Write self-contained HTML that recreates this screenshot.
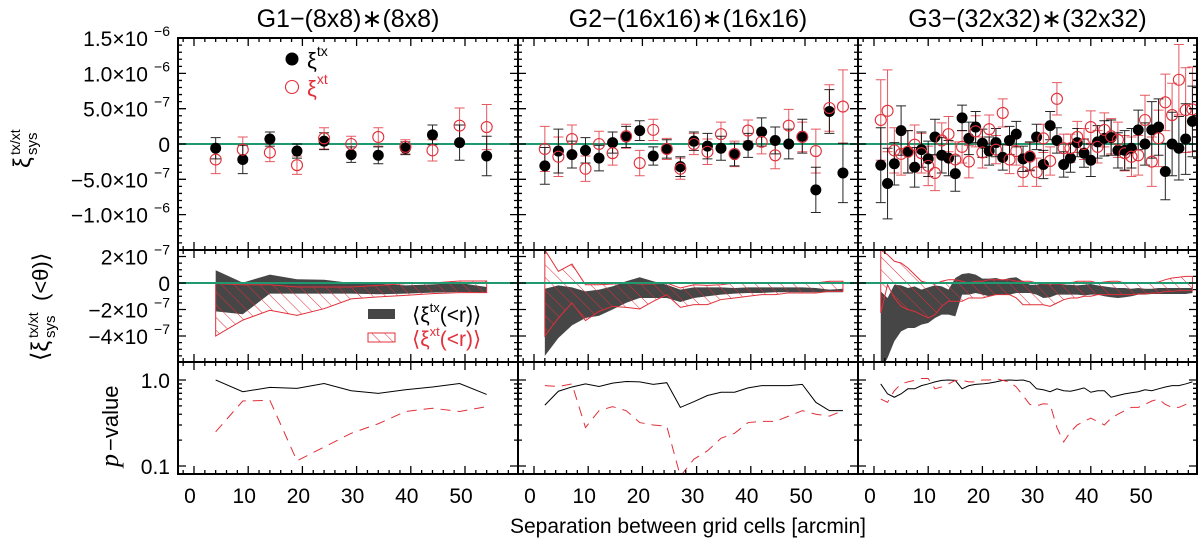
<!DOCTYPE html>
<html><head><meta charset="utf-8">
<style>
html,body{margin:0;padding:0;background:#fff;}
svg{display:block;font-family:"Liberation Sans","DejaVu Sans",sans-serif;}
</style></head>
<body>
<svg id="chart" width="1200" height="544" viewBox="0 0 1200 544" xmlns="http://www.w3.org/2000/svg">
<defs>
<pattern id="hatch" patternUnits="userSpaceOnUse" width="9" height="9" patternTransform="rotate(-45)">
<line x1="0" y1="0" x2="0" y2="9" stroke="#e0303a" stroke-width="1"/>
</pattern>
<clipPath id="c0"><rect x="178" y="38" width="340" height="436"/></clipPath>
<clipPath id="c1"><rect x="518" y="38" width="340" height="436"/></clipPath>
<clipPath id="c2"><rect x="858" y="38" width="339" height="436"/></clipPath>
</defs>
<g id="root"></g>
</svg>
<script>
// ---- data (values in units of 1e-7 for xi, p-values raw) ----
const titles=["G1\u2212(8x8)\u2217(8x8)","G2\u2212(16x16)\u2217(16x16)","G3\u2212(32x32)\u2217(32x32)"];
const sep1=[4,9,14,19,24,29,34,39,44,49,54];
const sep2=[2,4.5,7,9.5,12,14.5,17,19.5,22,24.5,27,29.5,32,34.5,37,39.5,42,44.5,47,49.5,52,54.5,57];
const sep3=[1.25,2.5,3.75,5,6.25,7.5,8.75,10,11.25,12.5,13.75,15,16.25,17.5,18.75,20,21.25,22.5,23.75,25,26.25,27.5,28.75,30,31.25,32.5,33.75,35,36.25,37.5,38.75,40,41.25,42.5,43.75,45,46.25,47.5,48.75,50,51.25,52.5,53.75,55,56.25,57.5,58.75];

const tx1=[-0.6,-2.2,0.7,-1.0,0.4,-1.5,-1.6,-0.6,1.3,0.2,-1.7];
const tx1err=[1.5,2.0,1.0,1.0,1.2,1.1,1.2,0.9,1.4,2.5,2.8];
const xt1=[-2.2,-0.8,-1.2,-3.0,0.8,0,1.0,-0.4,-0.9,2.6,2.4];
const xt1err=[2.0,1.8,1.3,1.3,1.5,1.1,1.3,1.0,1.5,2.5,3.2];

const tx2=[-3.1,-1.0,-1.5,-0.9,-2.0,0.2,1.0,1.9,-1.7,-0.7,-3.2,0.4,-0.3,-0.6,-1.5,-0.2,1.7,0.5,0,1.1,-6.5,4.6,-4.1];
const tx2err=[2.6,3.1,1.9,1.8,1.8,1.5,1.5,1.4,1.3,1.3,1.4,1.3,1.8,1.7,1.6,1.7,2.0,1.9,2.1,2.4,3.2,3.1,4.2];
const xt2=[-0.7,-1.8,0.7,-3.5,0,-1.3,1.1,-2.7,2.0,-0.7,-3.5,0,-1.1,1.4,-1.4,1.9,0.3,-1.6,2.6,1.0,-1.0,5.1,5.3];
const xt2err=[3.2,2.8,2.0,1.8,1.8,1.7,1.7,1.8,1.5,1.5,1.5,1.5,1.8,1.7,1.8,1.5,1.7,1.9,2.3,2.1,3.1,3.3,5.2];

const tx3=[-3.0,-5.6,-2.8,1.9,-1.1,-3.3,-0.8,-2.1,1.0,-1.6,-2.0,-4.2,3.7,0.8,2.4,0.1,-1.0,0.2,-1.9,0.5,1.4,-2.1,-1.7,1.0,-2.9,2.6,0.5,-2.9,-2.0,0.2,-1.3,-2.3,0.3,0.8,0.9,-0.9,-0.9,-0.6,2.0,0,2.0,2.4,-3.9,0,-0.6,0.7,3.2];
const tx3err=[5.3,5.0,3.0,3.5,3.0,2.8,2.5,2.5,2.5,2.5,2.5,2.5,1.8,2.3,2.2,2.0,2.0,2.0,1.8,2.0,1.8,1.8,2.0,1.8,2.0,2.0,1.8,1.8,2.0,2.0,2.0,2.3,2.3,2.5,2.5,2.5,2.8,2.8,2.8,3.0,4.0,4.0,4.0,4.5,4.5,5.0,5.0];
const xt3=[3.4,4.7,-0.9,-1.4,-1.1,-0.1,-1.3,-3.1,-4.1,0.5,1.4,-2.2,-0.4,-2.5,1.8,-1.2,2.1,-0.8,4.4,-2.2,-1.0,-4.0,-1.8,-4.0,0.8,-2.4,6.4,-0.6,-0.6,1.0,0,2.4,-0.4,2.0,1.1,0.6,-1.3,-1.8,-1.6,3.4,-2.5,0.8,5.9,4.1,9.1,4.8,4.9];
const xt3err=[5.7,5.8,3.2,3.0,3.0,2.8,2.8,2.8,2.5,2.5,2.5,2.5,2.3,2.3,2.2,2.2,2.0,2.0,2.0,2.0,2.0,2.0,2.0,2.0,2.0,2.0,2.3,2.0,2.0,2.2,2.2,2.3,2.3,2.4,2.5,2.5,2.5,2.8,2.8,3.5,3.5,4.0,4.0,4.5,5.0,6.0,6.0];

const cumTxHi1=[0.96,0.03,0.63,0.28,0.25,0,-0.05,-0.18,-0.1,0,-0.3];
const cumTxLo1=[-2.14,-2.36,-0.8,-0.8,-0.8,-0.8,-0.85,-0.8,-0.73,-0.68,-0.73];
const cumXtHi1=[-0.05,-0.13,-0.13,-0.3,-0.3,-0.3,-0.18,-0.05,0,0.15,0.15];
const cumXtLo1=[-4.0,-2.8,-2.06,-2.44,-1.94,-1.2,-1.05,-0.93,-0.8,-0.73,-0.73];

const cumTxHi2=[-0.43,-0.18,-0.33,-0.63,-0.5,-0.25,0.13,0.43,0.13,-0.13,-0.5,-0.33,-0.33,-0.33,-0.38,-0.33,-0.33,-0.33,-0.33,-0.33,-0.38,-0.5,-0.43];
const cumTxLo2=[-5.5,-4.15,-3.2,-2.64,-2.47,-2.0,-1.5,-1.13,-1.13,-1.13,-1.43,-1.13,-1.0,-0.88,-0.8,-0.75,-0.75,-0.7,-0.7,-0.7,-0.7,-0.7,-0.7];
const cumXtHi2=[2.5,0.88,1.43,-0.13,-0.13,-0.08,0,-0.08,-0.08,0,-0.38,-0.13,-0.18,-0.13,0,0,0,0,0,0,0,0.13,0.13];
const cumXtLo2=[-4.0,-2.64,-1.5,-2.84,-2.14,-1.76,-1.84,-1.96,-1.38,-0.88,-1.84,-1.63,-1.63,-1.25,-1.13,-1.0,-0.88,-0.88,-0.75,-0.75,-0.75,-0.63,-0.63];

const cumTxHi3=[-0.63,-1.13,-0.13,-0.18,-0.38,-0.25,-0.5,-0.33,-0.18,-0.25,-0.5,0.38,0.68,0.75,0.63,0.33,0.33,0.38,0.25,0.38,0.43,0.13,-0.13,-0.13,0,-0.13,-0.08,-0.13,-0.13,-0.18,-0.13,-0.08,-0.18,-0.25,-0.33,-0.38,-0.38,-0.43,-0.38,-0.43,-0.43,-0.38,-0.38,-0.38,-0.38,-0.38,-0.38];
const cumTxLo3=[-6.5,-5.66,-4.4,-3.65,-3.4,-3.4,-3.14,-3.02,-2.64,-2.39,-2.39,-2.52,-0.88,-0.88,-0.75,-0.88,-1.0,-0.88,-0.88,-0.88,-0.75,-0.75,-0.75,-0.88,-1.13,-1.08,-0.88,-0.88,-0.88,-0.88,-0.93,-0.88,-0.88,-1.0,-1.08,-1.13,-1.08,-1.0,-0.88,-0.88,-0.83,-0.83,-0.83,-0.83,-0.83,-0.83,-0.75];
const cumXtHi3=[2.5,2.14,1.64,1.51,1.13,0.63,0.13,0,-0.08,0.13,0.25,0.25,0.13,0,0.13,0.13,0.25,0.25,0.25,0.25,0.13,0.13,0.13,0,-0.08,-0.08,-0.08,-0.08,0,0.13,0.13,0.13,0,0.08,0.13,0.13,0,0,0,0,0,0.08,0.25,0.38,0.43,0.5,0.5];
const cumXtLo3=[-2.26,-0.13,-1.13,-1.76,-2.01,-2.14,-2.39,-2.64,-2.39,-1.76,-1.38,-1.38,-1.38,-1.13,-1.13,-1.13,-1.0,-0.88,-0.88,-0.88,-1.13,-1.64,-1.64,-1.64,-1.64,-1.76,-1.51,-1.26,-1.13,-1.13,-1.0,-1.0,-0.88,-0.88,-0.88,-0.88,-0.88,-0.88,-0.83,-0.83,-0.75,-0.75,-0.63,-0.63,-0.58,-0.58,-0.58];

const pTx1=[1.0,0.73,0.82,0.80,0.91,0.75,0.70,0.77,0.83,0.91,0.68];
const pXt1=[0.25,0.57,0.58,0.115,0.166,0.24,0.31,0.43,0.47,0.43,0.49];
const pTx2=[0.51,0.74,0.83,0.90,0.84,0.92,0.96,0.95,0.89,0.93,0.48,0.56,0.66,0.72,0.72,0.81,0.86,0.86,0.86,0.89,0.55,0.44,0.44];
const pXt2=[0.86,0.84,0.90,0.28,0.44,0.49,0.44,0.32,0.30,0.29,0.076,0.12,0.15,0.21,0.24,0.32,0.33,0.33,0.38,0.44,0.40,0.38,0.44];
const pTx3=[0.90,0.69,0.63,0.69,0.79,0.79,0.86,0.90,0.95,0.99,1.0,0.99,0.79,0.86,0.89,0.90,0.92,0.95,0.99,1.0,0.99,1.0,0.95,0.79,0.77,0.73,0.79,0.75,0.74,0.77,0.81,0.72,0.75,0.75,0.63,0.66,0.69,0.71,0.73,0.77,0.75,0.79,0.83,0.86,0.86,0.90,0.95];
const pXt3=[0.60,0.55,0.75,0.90,0.95,0.99,1.04,1.04,0.79,0.83,0.90,0.99,0.99,0.95,0.95,1.0,1.0,1.04,0.99,0.95,0.83,0.66,0.52,0.50,0.53,0.52,0.28,0.19,0.25,0.30,0.33,0.36,0.33,0.30,0.36,0.40,0.44,0.48,0.48,0.52,0.57,0.60,0.52,0.48,0.48,0.52,0.55];

const xTicks=[0,10,20,30,40,50];
const topTicks=[15,10,5,0,-5,-10];
const midTicks=[2,0,-2,-4];
const logTicks=[1.0,0.1];

// ---- layout ----
const NS="http://www.w3.org/2000/svg";
const root=document.getElementById('root');
const panelLeft=[178,518,858], panelW=[340,340,339];
const TOP=38, MID=250, BOT=362, END=474;
const RED="#e0303a", GREEN="#1f9a70";
function xs(p,v){return panelLeft[p]+16+v*5.42;}
function yTop(v){return 144-v*7.06;}
function yMid(v){return 283-v*13.25;}
function yLog(v){return 380-Math.log10(v)*86;}
function mk(tag,attrs,parent){const e=document.createElementNS(NS,tag);for(const k in attrs)e.setAttribute(k,attrs[k]);(parent||root).appendChild(e);return e;}

const seps=[sep1,sep2,sep3];
const txs=[tx1,tx2,tx3],txe=[tx1err,tx2err,tx3err],xts=[xt1,xt2,xt3],xte=[xt1err,xt2err,xt3err];
const cTH=[cumTxHi1,cumTxHi2,cumTxHi3],cTL=[cumTxLo1,cumTxLo2,cumTxLo3],cXH=[cumXtHi1,cumXtHi2,cumXtHi3],cXL=[cumXtLo1,cumXtLo2,cumXtLo3];
const pT=[pTx1,pTx2,pTx3],pX=[pXt1,pXt2,pXt3];

for(let p=0;p<3;p++){
  const L=panelLeft[p],W=panelW[p],R=L+W,S=seps[p];
  const g=mk('g',{'clip-path':`url(#c${p})`});
  
  
  const z1=mk('line',{x1:L,x2:R,y1:yTop(0),y2:yTop(0),stroke:GREEN,'stroke-width':2},g);
  
  
  for(let i=0;i<S.length;i++){
    const x=xs(p,S[i]);
    [[xts[p][i],xte[p][i],RED],[txs[p][i],txe[p][i],'#000']].forEach(([v,e,c])=>{
      const eb=mk('path',{d:`M${x},${yTop(v+e)}V${yTop(v-e)}M${x-5},${yTop(v+e)}h10M${x-5},${yTop(v-e)}h10`,stroke:c,'stroke-width':1,fill:'none',opacity:c==='#000'?0.85:0.8},g);
      
      
    });
  }
  for(let i=0;i<S.length;i++){
    const x=xs(p,S[i]);
    const b=mk('circle',{cx:x,cy:yTop(txs[p][i]),r:5.5,fill:'#000'},g);
    
    
    const r=mk('circle',{cx:x,cy:yTop(xts[p][i]),r:5.5,fill:'none',stroke:RED,'stroke-width':1.1},g);
    
    
  }
  function band(hi,lo){let d='';for(let i=0;i<S.length;i++)d+=(i?'L':'M')+xs(p,S[i])+','+yMid(hi[i]);for(let i=S.length-1;i>=0;i--)d+='L'+xs(p,S[i])+','+yMid(lo[i]);return d+'Z';}
  const gm=mk('g',{},g);
  const bt=mk('path',{d:band(cTH[p],cTL[p]),fill:'#464646'},gm);
  
  
  const bx=mk('path',{d:band(cXH[p],cXL[p]),fill:'url(#hatch)',stroke:RED,'stroke-width':1},gm);
  
  
  const clipMid=mk('clipPath',{id:'cm'+p},document.querySelector('defs'));
  mk('rect',{x:L,y:MID,width:W,height:BOT-MID},clipMid);
  gm.setAttribute('clip-path',`url(#cm${p})`);
  const z2=mk('line',{x1:L,x2:R,y1:yMid(0),y2:yMid(0),stroke:GREEN,'stroke-width':2},g);
  
  
  const clipB=mk('clipPath',{id:'cb'+p},document.querySelector('defs'));
  mk('rect',{x:L,y:BOT,width:W,height:END-BOT},clipB);
  const gb=mk('g',{'clip-path':`url(#cb${p})`},g);
  const lt=mk('polyline',{points:S.map((s,i)=>xs(p,s)+','+yLog(pT[p][i])).join(' '),fill:'none',stroke:'#000','stroke-width':1},gb);
  
  
  const lx=mk('polyline',{points:S.map((s,i)=>xs(p,s)+','+yLog(pX[p][i])).join(' '),fill:'none',stroke:RED,'stroke-width':1,'stroke-dasharray':'10,7'},gb);
  
  

  [[TOP,MID],[MID,BOT],[BOT,END]].forEach(([a,b])=>{
    const f=mk('rect',{x:L,y:a,width:W,height:b-a,fill:'none',stroke:'#000','stroke-width':2});
    
    
  });
  let td='';
  for(let v=-2;v<=60;v+=2){const x=xs(p,v);if(x<L+1||x>R-1)continue;const len=(v%10===0)?8:4;
    [[TOP,1],[MID,-1],[MID,1],[BOT,-1],[BOT,1],[END,-1]].forEach(([y,s])=>{td+=`M${x},${y}v${s*len}`;});}
  for(let v=-15;v<=15;v++){const y=yTop(v);if(y<TOP+1||y>MID-1)continue;const len=(v%5===0)?8:4;td+=`M${L},${y}h${len}M${R},${y}h${-len}`;}
  for(let v=-6;v<=2;v+=0.5){const y=yMid(v);if(y<MID+1||y>BOT-1)continue;const len=(Math.abs(v%2)<0.01)?8:4;td+=`M${L},${y}h${len}M${R},${y}h${-len}`;}
  [0.1,0.2,0.3,0.4,0.5,0.6,0.7,0.8,0.9,1.0].forEach(v=>{const y=yLog(v);const len=(v===1||v===0.1)?8:4;td+=`M${L},${y}h${len}M${R},${y}h${-len}`;});
  const tk=mk('path',{d:td,stroke:'#000','stroke-width':1.3,fill:'none'});
  
  
  xTicks.forEach(v=>{const t=mk('text',{x:xs(p,v)-4,y:503,'font-size':21,'text-anchor':'middle',fill:'#000'});t.textContent=v;
    
    });
  const tt=mk('text',{x:L+W/2,y:27,'font-size':25,'text-anchor':'middle',fill:'#000'});tt.textContent=titles[p];
  
  
}

function sciLabel(y,mant,exp,name){
  const t=mk('text',{x:150,y:y+8,'font-size':21,'text-anchor':'end',fill:'#000'});
  
  
  if(exp===null){t.setAttribute('x',170);t.textContent=mant;return;}
  t.textContent=mant+"\u00d710";
  const s=mk('tspan',{x:170,y:y-2,'font-size':14,'text-anchor':'end'},t);s.textContent="\u2212"+exp;
  t.setAttribute('x',148);
}
topTicks.forEach(v=>{const y=yTop(v);
  if(v===0)sciLabel(y,"0",null,'y-tick-label-top');
  else{const neg=v<0?"\u2212":"";const a=Math.abs(v);
    if(a>=10)sciLabel(y,neg+(a/10).toFixed(1),"6",'y-tick-label-top');else sciLabel(y,neg+a.toFixed(1),"7",'y-tick-label-top');}});
midTicks.forEach(v=>{const y=yMid(v);if(v===0)sciLabel(y,"0",null,'y-tick-label-mid');else sciLabel(y,(v<0?"\u2212":"")+Math.abs(v),"7",'y-tick-label-mid');});
logTicks.forEach(v=>{const t=mk('text',{x:170,y:yLog(v)+8,'font-size':21,'text-anchor':'end',fill:'#000'});t.textContent=v.toFixed(1);
  
  });

// y axis titles (rotated groups, local coords: +x along text, -y is "up" = screen left)
function rotGroup(x,y,name){const g=mk('g',{transform:`translate(${x},${y}) rotate(-90)`});
  
  return g;}
function tx(g,x,y,size,str){const t=mk('text',{x:x,y:y,'font-size':size,fill:'#000'},g);t.textContent=str;return t;}
const yt1=rotGroup(30,144,'y-axis-title-top');
tx(yt1,-24,0,24,'\u03be');tx(yt1,-11,-10,14,'tx/xt');tx(yt1,-11,7,15,'sys');
const yt2=rotGroup(48,305,'y-axis-title-middle');
tx(yt2,-56,0,24,'\u27e8\u03be');tx(yt2,-33,-10,14,'tx/xt');tx(yt2,-33,7,15,'sys');tx(yt2,4,0,22,'(<\u03b8)\u27e9');
const yt3=rotGroup(118,425,'y-axis-title-bottom');
const pv=mk('text',{x:-42,y:0,'font-size':26,'font-style':'italic','font-family':'Liberation Serif',fill:'#000'},yt3);pv.textContent='p';
tx(yt3,-26,0,22,'\u2212value');

const xl=mk('text',{x:688,y:533,'font-size':21,'text-anchor':'middle',fill:'#000'});
xl.textContent="Separation between grid cells [arcmin]";



const lg1=mk('g',{});


mk('circle',{cx:292,cy:59,r:6.5,fill:'#000'},lg1);
mk('circle',{cx:292,cy:87,r:6.5,fill:'none',stroke:RED,'stroke-width':1.1},lg1);
let t1=mk('text',{x:307,y:68,'font-size':22,fill:'#000'},lg1);t1.innerHTML='\u03be<tspan font-size="14" dy="-12">tx</tspan>';
let t2=mk('text',{x:307,y:96,'font-size':22,fill:RED},lg1);t2.innerHTML='\u03be<tspan font-size="14" dy="-12">xt</tspan>';
const lg2=mk('g',{});


mk('rect',{x:368,y:309,width:27,height:10,fill:'#464646'},lg2);
mk('rect',{x:368,y:333,width:27,height:9,fill:'url(#hatch)',stroke:RED,'stroke-width':1},lg2);
let t3=mk('text',{x:412,y:322,'font-size':21,fill:'#000'},lg2);t3.innerHTML='\u27e8\u03be<tspan font-size="13" dy="-10">tx</tspan><tspan dy="10">(&lt;r)\u27e9</tspan>';
let t4=mk('text',{x:412,y:346,'font-size':21,fill:RED},lg2);t4.innerHTML='\u27e8\u03be<tspan font-size="13" dy="-10">xt</tspan><tspan dy="10">(&lt;r)\u27e9</tspan>';
</script>
</body></html>
